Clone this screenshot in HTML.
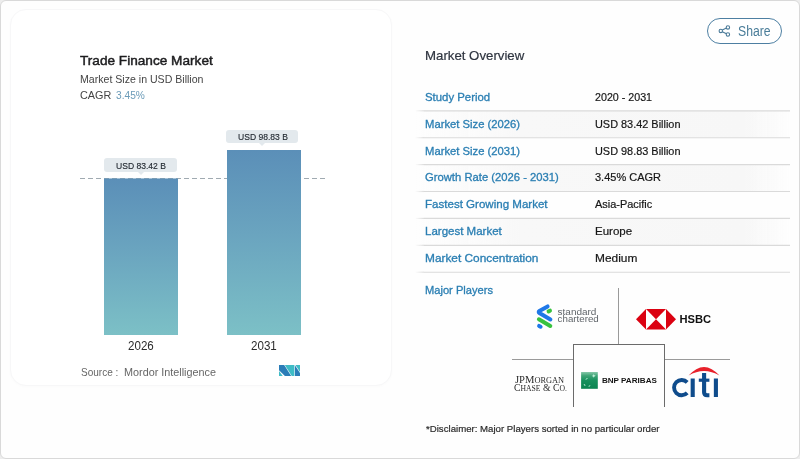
<!DOCTYPE html>
<html>
<head>
<meta charset="utf-8">
<title>Trade Finance Market</title>
<style>
*{margin:0;padding:0;box-sizing:border-box;}
html,body{width:800px;height:459px;overflow:hidden;background:#ededed;}
body{position:relative;font-family:"Liberation Sans",sans-serif;color:#222;}
.frame{position:absolute;left:0;top:0;width:800px;height:458.5px;border:1px solid #d9d9d9;border-radius:6px;background:#fefefe;}
.card{position:absolute;left:10px;top:9px;width:382px;height:377px;border-radius:16px;background:#ffffff;border:1px solid #f7f7f8;box-shadow:0 1px 3px rgba(0,0,0,0.015);}
.t{position:absolute;white-space:nowrap;transform-origin:0 0;line-height:1;}
.bar{position:absolute;background:linear-gradient(180deg,#5b8fb8 0%,#6aa4bf 45%,#7cc0c6 100%);}
.badge{position:absolute;background:#e3e9ed;border-radius:3px;}
.badge:after{content:"";position:absolute;left:50%;bottom:-3px;margin-left:-3px;border-left:3px solid transparent;border-right:3px solid transparent;border-top:3px solid #e3e9ed;}
.dash{position:absolute;left:80px;top:178px;width:248px;height:1px;background:repeating-linear-gradient(90deg,#a0aab1 0,#a0aab1 5px,rgba(255,255,255,0) 5px,rgba(255,255,255,0) 8px);}
.sep{position:absolute;left:415px;width:375px;height:2px;background:linear-gradient(90deg,rgba(230,230,230,0) 0,#e7e7e7 10px,#e7e7e7 100%);}
.lbl{color:#2b7fb3;font-size:11.5px;-webkit-text-stroke:0.32px #2b7fb3;}
.val{color:#161616;font-size:11.5px;-webkit-text-stroke:0.2px #161616;}
.band{position:absolute;left:415px;width:375px;height:26px;background:linear-gradient(90deg,rgba(246,246,246,0) 0%,#f8f8f8 28%,#f7f7f7 88%,rgba(246,246,246,0) 100%);}
.ln{position:absolute;background:#9a9a9a;}
</style>
</head>
<body>
<div class="frame"></div>
<div class="card"></div>
<div id="layer" style="position:absolute;left:0;top:0;width:800px;height:459px;will-change:transform;opacity:0.999;">

<!-- left chart -->
<div class="t" style="left:80px;top:54.4px;font-size:13px;color:#1d1d1f;-webkit-text-stroke:0.45px #1d1d1f;transform:scaleX(1.048);">Trade Finance Market</div>
<div class="t" style="left:79.6px;top:74px;font-size:11px;color:#444;transform:scaleX(0.962);">Market Size in USD Billion</div>
<div class="t" style="left:80px;top:90px;font-size:11px;color:#444;transform:scaleX(0.985);">CAGR</div>
<div class="t" style="left:115.9px;top:90px;font-size:11px;color:#6b9bb8;transform:scaleX(0.925);">3.45%</div>

<div class="dash"></div>
<div class="bar" style="left:104px;top:179px;width:74px;height:156px;"></div>
<div style="position:absolute;left:104px;top:178px;width:74px;height:1px;background:rgba(91,143,184,0.55);"></div>
<div class="bar" style="left:227px;top:150px;width:74px;height:185px;"></div>

<div class="badge" style="left:104px;top:158px;width:73px;height:14px;"></div>
<div class="t" style="left:115.8px;top:161px;font-size:9.9px;color:#1f262e;-webkit-text-stroke:0.15px #1f262e;transform:scaleX(0.866);">USD 83.42 B</div>
<div class="badge" style="left:226px;top:130px;width:72px;height:13px;"></div>
<div class="t" style="left:238.3px;top:131.5px;font-size:9.9px;color:#1f262e;-webkit-text-stroke:0.15px #1f262e;transform:scaleX(0.866);">USD 98.83 B</div>

<div class="t" style="left:128px;top:339.5px;font-size:12px;color:#2b2b2b;transform:scaleX(0.965);">2026</div>
<div class="t" style="left:251px;top:339.5px;font-size:12px;color:#2b2b2b;transform:scaleX(0.965);">2031</div>

<div class="t" style="left:80.8px;top:366.6px;font-size:10.5px;color:#666;transform:scaleX(0.955);">Source :</div>
<div class="t" style="left:124.2px;top:366.6px;font-size:10.5px;color:#666;transform:scaleX(1.03);">Mordor Intelligence</div>
<svg style="position:absolute;left:279px;top:364.8px;" width="21" height="11.2" viewBox="0 0 21 11.2">
  <polygon points="0,0 5.2,0 12.3,11.2 6.1,11.2 0,5.2" fill="#2b7db8"/>
  <polygon points="0,5.9 3.9,11.2 0,11.2" fill="#3fbcc6"/>
  <polygon points="5.8,0 15.3,0 15.3,11.2 12.9,11.2" fill="#3fbcc6"/>
  <polygon points="15.9,0.2 21,8 21,11.2 15.9,11.2" fill="#2b7db8"/>
  <polygon points="16.5,0 21,0 21,7.1" fill="#3fbcc6"/>
</svg>

<!-- right panel -->
<div class="t" style="left:424.5px;top:49px;font-size:13px;color:#2f3540;-webkit-text-stroke:0.2px #2f3540;transform:scaleX(1.018);">Market Overview</div>

<!-- share -->
<div style="position:absolute;left:707px;top:18px;width:74.5px;height:26px;border:1px solid #4d7fa2;border-radius:13px;background:#fff;"></div>
<svg style="position:absolute;left:717px;top:24.35px;" width="15" height="14" viewBox="0 0 15 14">
  <g fill="none" stroke="#4a7a99" stroke-width="1.08">
    <circle cx="3.8" cy="6.9" r="1.7"/><circle cx="10.9" cy="3.4" r="1.7"/><circle cx="10.9" cy="10.5" r="1.7"/>
    <path d="M5.3 6.1 L9.4 4.1 M5.3 7.7 L9.4 9.8"/>
  </g>
</svg>
<div class="t" style="left:738.3px;top:24px;font-size:14px;color:#4a7d99;transform:scaleX(0.872);">Share</div>

<!-- rows -->
<div class="t lbl" style="left:425.2px;top:92px;transform:scaleX(0.989);">Study Period</div>
<div class="t val" style="left:594.7px;top:92px;transform:scaleX(0.929);">2020 - 2031</div>
<div class="band" style="top:111.4px;"></div>
<div class="t lbl" style="left:425.2px;top:119px;transform:scaleX(0.979);">Market Size (2026)</div>
<div class="t val" style="left:594.7px;top:119px;transform:scaleX(0.948);">USD 83.42 Billion</div>
<div class="t lbl" style="left:425.2px;top:146px;transform:scaleX(0.979);">Market Size (2031)</div>
<div class="t val" style="left:594.7px;top:146px;transform:scaleX(0.948);">USD 98.83 Billion</div>
<div class="band" style="top:165.2px;"></div>
<div class="t lbl" style="left:425.2px;top:172px;transform:scaleX(0.978);">Growth Rate (2026 - 2031)</div>
<div class="t val" style="left:594.7px;top:172px;transform:scaleX(0.956);">3.45% CAGR</div>
<div class="t lbl" style="left:425.2px;top:199px;transform:scaleX(1.004);">Fastest Growing Market</div>
<div class="t val" style="left:594.7px;top:199px;transform:scaleX(0.952);">Asia-Pacific</div>
<div class="band" style="top:219.0px;"></div>
<div class="t lbl" style="left:425.2px;top:226px;transform:scaleX(1.001);">Largest Market</div>
<div class="t val" style="left:594.7px;top:226px;transform:scaleX(1.003);">Europe</div>
<div class="t lbl" style="left:425.2px;top:253px;transform:scaleX(1.031);">Market Concentration</div>
<div class="t val" style="left:594.7px;top:253px;transform:scaleX(1.034);">Medium</div>
<div class="t lbl" style="left:425.2px;top:285px;transform:scaleX(0.967);">Major Players</div>
<svg style="position:absolute;left:0;top:0;" width="800" height="459" viewBox="0 0 800 459"><defs><linearGradient id="sepfade" gradientUnits="userSpaceOnUse" x1="415" y1="0" x2="424" y2="0"><stop offset="0" stop-color="#dcdcdc" stop-opacity="0"/><stop offset="1" stop-color="#dcdcdc"/></linearGradient></defs><g stroke="#dadada" stroke-width="1.15" fill="none"><line x1="424" y1="110.80" x2="790" y2="110.80"/><line x1="415" y1="110.80" x2="424" y2="110.80" stroke="url(#sepfade)"/><line x1="424" y1="137.70" x2="790" y2="137.70"/><line x1="415" y1="137.70" x2="424" y2="137.70" stroke="url(#sepfade)"/><line x1="424" y1="164.60" x2="790" y2="164.60"/><line x1="415" y1="164.60" x2="424" y2="164.60" stroke="url(#sepfade)"/><line x1="424" y1="191.50" x2="790" y2="191.50"/><line x1="415" y1="191.50" x2="424" y2="191.50" stroke="url(#sepfade)"/><line x1="424" y1="218.40" x2="790" y2="218.40"/><line x1="415" y1="218.40" x2="424" y2="218.40" stroke="url(#sepfade)"/><line x1="424" y1="245.30" x2="790" y2="245.30"/><line x1="415" y1="245.30" x2="424" y2="245.30" stroke="url(#sepfade)"/><line x1="424" y1="272.20" x2="790" y2="272.20"/><line x1="415" y1="272.20" x2="424" y2="272.20" stroke="url(#sepfade)"/></g></svg>

<!-- players grid lines -->
<div class="ln" style="left:618px;top:288px;width:1.4px;height:56px;"></div>
<div class="ln" style="left:511.5px;top:358.7px;width:62px;height:1.2px;"></div>
<div class="ln" style="left:664.5px;top:358.7px;width:65px;height:1.2px;"></div>
<div style="position:absolute;left:573px;top:343.6px;width:92px;height:63px;border:1.2px solid #6b6b6b;border-bottom:none;"></div>


<!-- logos overlay in page coordinates -->
<svg style="position:absolute;left:0;top:0;" width="800" height="459" viewBox="0 0 800 459">
  <!-- Standard Chartered -->
  <g fill="none" stroke-linecap="round" stroke-linejoin="round" stroke-width="4">
    <path d="M547.6 306.4 L539.4 311 Q538 312 539.4 313 L550.4 319.5" stroke="#1f78e8"/>
    <path d="M548.6 311.4 L550 310.7" stroke="#38c23f"/>
    <path d="M538.9 319.3 L550.3 326" stroke="#38c23f"/>
    <path d="M539.1 325.9 L540.6 326.7" stroke="#1f78e8"/>
  </g>
  <g font-family="Liberation Sans, sans-serif" font-size="8.3" fill="#60656a">
    <text x="557.6" y="315" textLength="38.8" lengthAdjust="spacingAndGlyphs">standard</text>
    <text x="557.6" y="322.2" textLength="41.2" lengthAdjust="spacingAndGlyphs">chartered</text>
  </g>
  <!-- HSBC -->
  <g fill="#db0011">
    <polygon points="636,319.2 646,309 646,329.4"/>
    <polygon points="676,319.2 666,309 666,329.4"/>
    <polygon points="646,309 666,309 656,319.2"/>
    <polygon points="646,329.4 666,329.4 656,319.2"/>
  </g>
  <text x="679.4" y="323.1" font-family="Liberation Sans, sans-serif" font-weight="bold" font-size="11" fill="#111" textLength="31.6" lengthAdjust="spacingAndGlyphs">HSBC</text>
  <!-- BNP Paribas -->
  <defs><linearGradient id="bnp" x1="0" y1="0" x2="0" y2="1"><stop offset="0" stop-color="#86c7a8"/><stop offset="0.22" stop-color="#3fa476"/><stop offset="0.5" stop-color="#17905d"/><stop offset="1" stop-color="#0a8350"/></linearGradient></defs>
  <rect x="581.1" y="372" width="16.7" height="16.8" fill="url(#bnp)"/>
  <g fill="#c9f5e2">
    <path d="M593.8 373.9 L594.3 375.3 L595.8 375.8 L594.3 376.4 L593.8 377.8 L593.2 376.4 L591.6 375.9 L593.2 375.3 Z"/>
    <path d="M585.2 379.8 L586.3 378.4 L588 378 L586.9 379.3 Z"/>
    <path d="M583.6 384 L585 384.4 L585.6 385.8 L584.2 385.4 Z"/>
    <path d="M588.2 386.6 L589.2 385.6 L590.6 385.4 L589.6 386.4 Z"/>
  </g>
  <text x="601.9" y="383.1" font-family="Liberation Sans, sans-serif" font-weight="bold" font-size="7.8" fill="#151515" textLength="55" lengthAdjust="spacingAndGlyphs">BNP PARIBAS</text>
  <!-- Citi -->
  <g fill="none" stroke="#0f4c8c">
    <path d="M687.2 382.4 A7.6 7.6 0 1 0 687.2 392.8" stroke-width="3.9"/>
    <path d="M692.7 378.5 V396.9 M715.9 378.5 V396.9" stroke-width="4.1"/>
    <path d="M704.1 373.1 V392.2 Q704.1 395.2 707.2 395.2 H709.4" stroke-width="4.1"/>
    <path d="M698.8 380.2 H709.4" stroke-width="3.2"/>
  </g>
  <path d="M688.6 375.6 Q704 358.2 719.5 375.6 Q704 366.4 688.6 375.6 Z" fill="#e8212b"/>
</svg>
<div class="t" style="left:515px;top:375.9px;font-family:'Liberation Serif',serif;font-size:9.4px;color:#2a2a2a;transform:scaleX(1.13);" id="jp1">JPM<span style="font-size:7.4px">ORGAN</span></div>
<div class="t" style="left:514.4px;top:384.1px;font-family:'Liberation Serif',serif;font-size:9.4px;color:#2a2a2a;transform:scaleX(1.037);" id="jp2">C<span style="font-size:7.4px">HASE</span> &amp; C<span style="font-size:7.4px">O.</span></div>
<div class="t" style="left:426px;top:424px;font-size:9.9px;color:#2b2b2b;-webkit-text-stroke:0.2px #2b2b2b;transform:scaleX(0.976);">*Disclaimer: Major Players sorted in no particular order</div>
</div>
</body>
</html>
